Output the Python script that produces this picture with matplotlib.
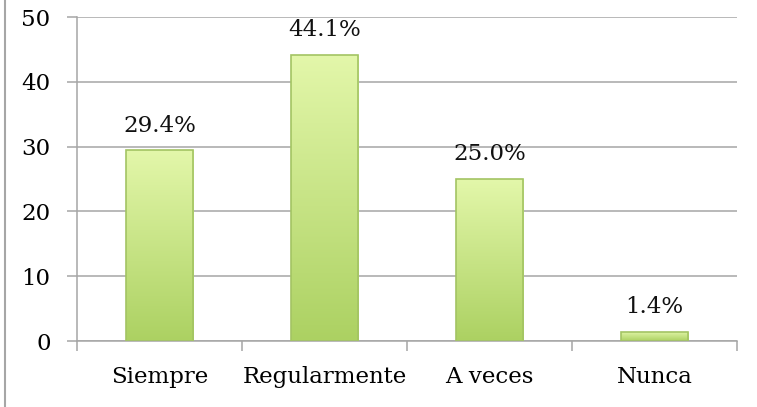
import numpy as np
import matplotlib.pyplot as plt
from matplotlib.lines import Line2D
from matplotlib.colors import LinearSegmentedColormap

# data
categories = ["Siempre", "Regularmente", "A veces", "Nunca"]
values = [29.4, 44.1, 25.0, 1.4]
labels = ["29.4%", "44.1%", "25.0%", "1.4%"]

plt.rcParams['font.family'] = ['DejaVu Serif']

fig = plt.figure(figsize=(7.57, 4.07), dpi=100)
ax = fig.add_axes([77 / 757, 66 / 407, 660 / 757, 324 / 407])

grid_col = "#a6a6a6"
fs = 16.5
cmap = LinearSegmentedColormap.from_list("grn", ["#acd162", "#e3f7aa"])
grad = np.linspace(0, 1, 256).reshape(-1, 1)

width = 0.41
x = np.arange(len(categories))
bars = ax.bar(x, values, width=width, color="none", edgecolor="#a3c463",
              linewidth=1.2, zorder=3)
for b in bars:
    x0, y0 = b.get_x(), b.get_y()
    im = ax.imshow(grad, cmap=cmap, origin="lower", aspect="auto",
                   extent=[x0, x0 + b.get_width(), y0, y0 + b.get_height()],
                   zorder=2)
    im.set_clip_path(b)

for xi, v, lab in zip(x, values, labels):
    ax.annotate(lab, (xi, v), xytext=(0, 10), textcoords="offset points",
                ha="center", va="bottom", fontsize=fs, color="#111111")

ax.set_xlim(-0.5, len(categories) - 0.5)
ax.set_ylim(0, 50)
ax.set_yticks(range(0, 51, 10))
ax.yaxis.grid(True, color=grid_col, linewidth=1.1, zorder=0)
ax.set_axisbelow(True)

ax.set_xticks(x)
ax.set_xticklabels(categories, fontsize=fs)
ax.tick_params(axis="x", length=0, pad=18)
ax.set_xticks(np.arange(-0.5, len(categories)), minor=True)
ax.tick_params(axis="x", which="minor", length=7, width=1.1, color=grid_col)
ax.tick_params(axis="y", length=7, width=1.1, color=grid_col,
               labelsize=fs, pad=12)

for side in ["top", "right"]:
    ax.spines[side].set_visible(False)
for side in ["left", "bottom"]:
    ax.spines[side].set_color(grid_col)
    ax.spines[side].set_linewidth(1.1)

# outer frame line on the left edge
fig.add_artist(Line2D([5 / 757, 5 / 757], [0, 1], color=grid_col,
                      linewidth=1.5, transform=fig.transFigure))

fig.savefig("out.png", dpi=100)
